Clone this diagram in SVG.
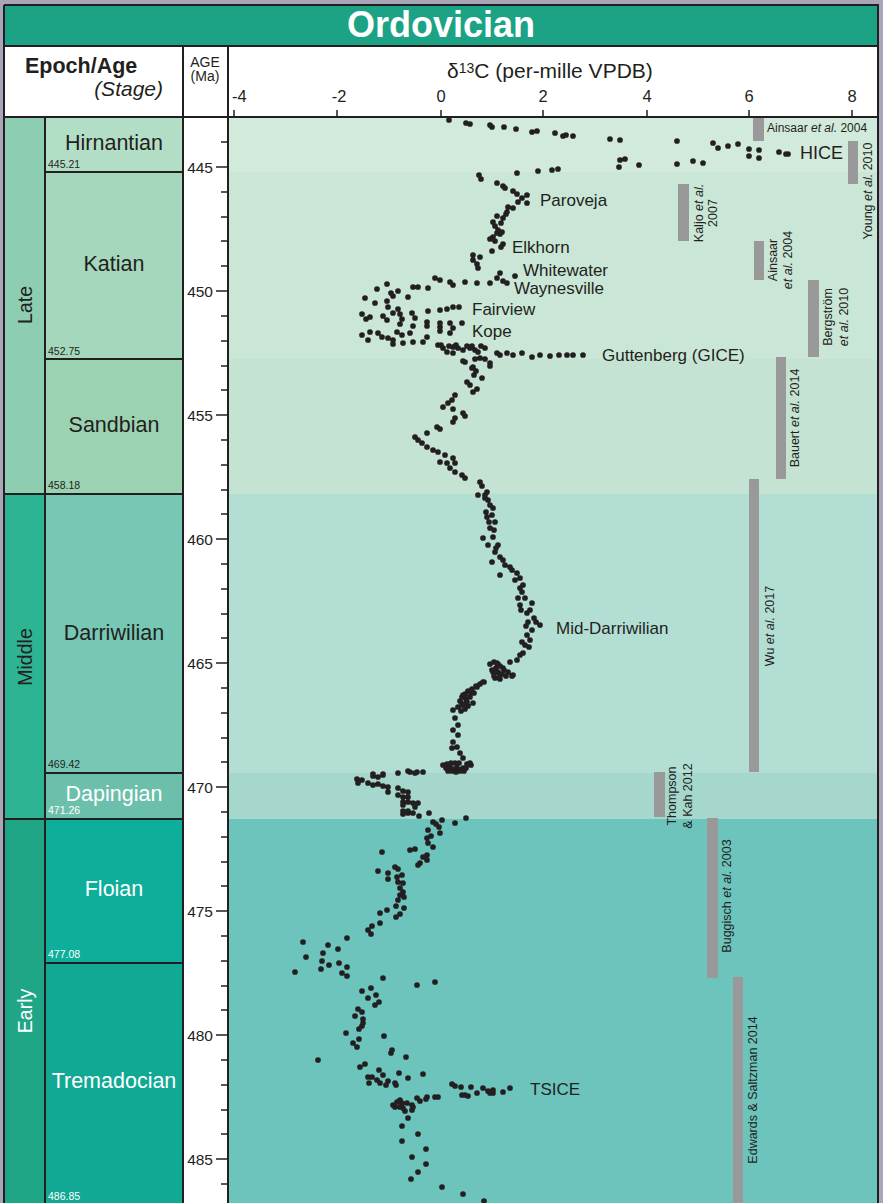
<svg xmlns="http://www.w3.org/2000/svg" width="883" height="1203" viewBox="0 0 883 1203">
<style>
text{font-family:"Liberation Sans",Arial,sans-serif;fill:#231f20}
.w{fill:#fff}
.stg{font-size:21.5px;text-anchor:middle}
.dt{font-size:10.5px}
.age{font-size:15.5px;text-anchor:end}
.ax{font-size:16.5px;text-anchor:middle}
.lbl{font-size:17px}
.ref{font-size:12.5px;text-anchor:middle}
.ln{stroke:#231f20;stroke-width:2;fill:none}
.tk{stroke:#231f20;stroke-width:1.5;fill:none}
.bar{fill:#999}
</style>
<rect x="0" y="0" width="883" height="1203" fill="#a9a6b9"/>
<g id="title">
<rect x="4" y="5" width="874" height="41" fill="#1ca385"/>
<text x="441" y="37" class="w" font-size="36" font-weight="bold" text-anchor="middle">Ordovician</text>
</g>
<g id="header">
<rect x="4" y="46" width="874" height="71" fill="#fff"/>
<text x="25" y="73" font-size="21.5" font-weight="bold">Epoch/Age</text>
<text x="163" y="96" font-size="21" font-style="italic" text-anchor="end">(Stage)</text>
<text x="205" y="67" font-size="14" text-anchor="middle">AGE</text>
<text x="205" y="81" font-size="14" text-anchor="middle">(Ma)</text>
<text x="447" y="78" font-size="21">δ<tspan font-size="14" dy="-5">13</tspan><tspan dy="5">C (per-mille VPDB)</tspan></text>
</g>
<g id="plot-bands">
<rect x="228" y="117" width="650" height="55" fill="#d2eadb"/>
<rect x="228" y="172" width="650" height="187" fill="#c9e6d6"/>
<rect x="228" y="359" width="650" height="135" fill="#c4e3d2"/>
<rect x="228" y="494" width="650" height="279" fill="#b3ded4"/>
<rect x="228" y="773" width="650" height="46" fill="#a6d7cc"/>
<rect x="228" y="819" width="650" height="384" fill="#6dc4bd"/>
</g>
<g id="age-column">
<rect x="183" y="117" width="45" height="1086" fill="#fff"/>
</g>
<g id="epoch-late"><rect x="4" y="117" width="41" height="377" fill="#8dcdb1"/>
<text transform="translate(32,305) rotate(-90)" font-size="19.5" text-anchor="middle">Late</text></g>
<g id="epoch-middle"><rect x="4" y="494" width="41" height="325" fill="#2db593"/>
<text transform="translate(32,657) rotate(-90)" font-size="19.5" text-anchor="middle">Middle</text></g>
<g id="epoch-early"><rect x="4" y="819" width="41" height="384" fill="#1ea687"/>
<text transform="translate(32,1011) rotate(-90)" font-size="19.5" text-anchor="middle" class="w">Early</text></g>
<g id="stage-hirnantian"><rect x="45" y="117" width="138" height="55" fill="#b3dec6"/>
<text x="114" y="150" class="stg">Hirnantian</text><text x="48" y="168" class="dt">445.21</text></g>
<g id="stage-katian"><rect x="45" y="172" width="138" height="187" fill="#a4d7bb"/>
<text x="114" y="271" class="stg">Katian</text><text x="48" y="355" class="dt">452.75</text></g>
<g id="stage-sandbian"><rect x="45" y="359" width="138" height="135" fill="#9bd2b2"/>
<text x="114" y="432" class="stg">Sandbian</text><text x="48" y="489" class="dt">458.18</text></g>
<g id="stage-darriwilian"><rect x="45" y="494" width="138" height="279" fill="#76c7b4"/>
<text x="114" y="640" class="stg">Darriwilian</text><text x="48" y="768" class="dt">469.42</text></g>
<g id="stage-dapingian"><rect x="45" y="773" width="138" height="46" fill="#6cc0ab"/>
<text x="114" y="801" class="stg w">Dapingian</text><text x="48" y="814" class="dt w">471.26</text></g>
<g id="stage-floian"><rect x="45" y="819" width="138" height="144" fill="#0daf9b"/>
<text x="114" y="896" class="stg w">Floian</text><text x="48" y="958" class="dt w">477.08</text></g>
<g id="stage-tremadocian"><rect x="45" y="963" width="138" height="240" fill="#12a994"/>
<text x="114" y="1088" class="stg w">Tremadocian</text><text x="48" y="1200" class="dt w">486.85</text></g>
<g id="frame">
<path class="ln" d="M4 5H878V1203M4 5V1203M4 46H878M4 117H878M183 46V1203M228 46V1203M45 117V1203M45 172H183M45 359H183M4 494H183M45 773H183M4 819H183M45 963H183"/>
</g>
<g id="y-axis">
<path class="tk" d="M221 142H228M216 167H228M221 192H228M221 217H228M221 241H228M221 266H228M216 291H228M221 316H228M221 341H228M221 366H228M221 390H228M216 415H228M221 440H228M221 465H228M221 490H228M221 514H228M216 539H228M221 564H228M221 589H228M221 614H228M221 638H228M216 663H228M221 688H228M221 713H228M221 738H228M221 762H228M216 787H228M221 812H228M221 837H228M221 862H228M221 886H228M216 911H228M221 936H228M221 961H228M221 986H228M221 1010H228M216 1035H228M221 1060H228M221 1085H228M221 1110H228M221 1134H228M216 1159H228M221 1184H228"/>
<text x="213" y="173" class="age">445</text>
<text x="213" y="297" class="age">450</text>
<text x="213" y="421" class="age">455</text>
<text x="213" y="545" class="age">460</text>
<text x="213" y="669" class="age">465</text>
<text x="213" y="793" class="age">470</text>
<text x="213" y="917" class="age">475</text>
<text x="213" y="1041" class="age">480</text>
<text x="213" y="1165" class="age">485</text>
</g>
<g id="x-axis">
<path class="tk" d="M234 110V117M337 110V117M441 110V117M543 110V117M647 110V117M749 110V117M852 110V117"/>
<text x="232" y="102" font-size="16.5">-4</text>
<text x="339" y="102" class="ax">-2</text>
<text x="441" y="102" class="ax">0</text>
<text x="543" y="102" class="ax">2</text>
<text x="647" y="102" class="ax">4</text>
<text x="749" y="102" class="ax">6</text>
<text x="852" y="102" class="ax">8</text>
</g>
<g id="references">
<rect class="bar" x="753" y="118" width="11" height="23"/>
<text x="767" y="132" font-size="12">Ainsaar <tspan font-style="italic">et al.</tspan> 2004</text>
<rect class="bar" x="848" y="141" width="10" height="43"/>
<text class="ref" transform="translate(872,191) rotate(-90)">Young <tspan font-style="italic">et al.</tspan> 2010</text>
<rect class="bar" x="678" y="184" width="11" height="57"/>
<text class="ref" transform="translate(703,213) rotate(-90)">Kaljo <tspan font-style="italic">et al.</tspan><tspan x="0" dy="14">2007</tspan></text>
<rect class="bar" x="754" y="241" width="10" height="39"/>
<text class="ref" transform="translate(777,260) rotate(-90)">Ainsaar<tspan x="0" dy="15"><tspan font-style="italic">et al.</tspan> 2004</tspan></text>
<rect class="bar" x="808" y="280" width="11" height="77"/>
<text class="ref" transform="translate(832,317) rotate(-90)">Bergström<tspan x="0" dy="16"><tspan font-style="italic">et al.</tspan> 2010</tspan></text>
<rect class="bar" x="776" y="357" width="10" height="122"/>
<text class="ref" transform="translate(799,418) rotate(-90)">Bauert <tspan font-style="italic">et al.</tspan> 2014</text>
<rect class="bar" x="749" y="479" width="10" height="293"/>
<text class="ref" transform="translate(774,626) rotate(-90)">Wu <tspan font-style="italic">et al.</tspan> 2017</text>
<rect class="bar" x="654" y="772" width="11" height="45"/>
<text class="ref" transform="translate(676,796) rotate(-90)">Thompson<tspan x="0" dy="16">&amp; Kah 2012</tspan></text>
<rect class="bar" x="707" y="818" width="11" height="160"/>
<text class="ref" transform="translate(731,896) rotate(-90)">Buggisch <tspan font-style="italic">et al.</tspan> 2003</text>
<rect class="bar" x="733" y="977" width="10" height="226"/>
<text class="ref" transform="translate(757,1090) rotate(-90)">Edwards &amp; Saltzman 2014</text>
</g>
<g id="data">
<path fill="none" stroke="#231f20" stroke-width="5.7" stroke-linecap="round" d="M449 120h0M466 123h0M470 124h0M490 125h0M492 127h0M504 127h0M516 129h0M532 132h0M537 131h0M555 133h0M563 136h0M566 135h0M573 136h0M610 139h0M620 140h0M677 141h0M713 143h0M718 148h0M728 146h0M738 144h0M749 149h0M759 150h0M749 156h0M759 158h0M779 152h0M786 154h0M788 154h0M620 160h0M625 159h0M619 167h0M639 165h0M677 164h0M693 161h0M703 163h0M517 173h0M538 171h0M552 170h0M558 169h0
M479 175h0M481 179h0M497 183h0M503 186h0M505 188h0M513 191h0M517 194h0M527 195h0M522 198h0M518 202h0M527 203h0M513 208h0M508 207h0M507 212h0M506 214h0M497 216h0M503 218h0M493 222h0M501 223h0M495 226h0M498 230h0M502 232h0M497 233h0M500 234h0M493 237h0M490 239h0M495 241h0M503 244h0M501 247h0M492 251h0M473 255h0M480 257h0M473 260h0M477 264h0M478 268h0M500 273h0M497 278h0M515 276h0M503 281h0M507 283h0M435 278h0M440 280h0M450 282h0M453 285h0M465 282h0M477 283h0M490 283h0M418 287h0M428 288h0M413 287h0M387 284h0M377 289h0M391 293h0M398 291h0M393 296h0M365 298h0M408 297h0M387 301h0M375 303h0M388 307h0M398 309h0M428 311h0M440 310h0M447 309h0M453 307h0M459 307h0M362 314h0M370 317h0M383 316h0M393 313h0M400 314h0M412 313h0M415 318h0M402 319h0M366 319h0M387 320h0M427 322h0M440 323h0M450 323h0M462 323h0M413 326h0M400 324h0M427 326h0M440 327h0M453 328h0M397 332h0M378 333h0M362 335h0M370 332h0M382 337h0M388 338h0M402 335h0M410 333h0M427 337h0M440 331h0M450 333h0M393 340h0M403 343h0M413 342h0M393 344h0M423 342h0M368 340h0M438 345h0M443 348h0M447 352h0M453 347h0M458 348h0M463 350h0M470 348h0M475 350h0M478 352h0M485 348h0M453 353h0M497 353h0M500 355h0M507 353h0M513 355h0M522 353h0M532 357h0M540 355h0M550 356h0M567 355h0M573 355h0M583 355h0M465 362h0M473 367h0M480 358h0M490 363h0M441 345h0M449 346h0M456 345h0M467 346h0M472 346h0M481 346h0M559 355h0
M463 361h0M475 359h0M485 359h0M490 366h0M472 368h0M476 371h0M474 375h0M482 378h0M467 382h0M470 385h0M477 389h0M473 392h0M455 395h0M452 400h0M448 403h0M443 407h0M453 409h0M463 413h0M465 416h0M455 418h0M453 422h0M437 427h0M440 429h0M427 433h0M415 437h0M418 440h0M422 443h0M427 447h0M433 450h0M438 452h0M445 455h0M453 458h0M440 462h0M447 463h0M455 463h0M450 468h0M455 472h0M462 475h0M465 478h0M480 482h0M482 486h0M487 492h0M478 495h0M485 498h0M490 505h0M493 508h0M487 517h0M495 522h0M490 528h0M483 538h0M493 537h0M498 545h0M495 552h0M500 557h0M492 562h0M503 560h0M510 567h0M500 575h0M517 573h0M520 578h0M523 585h0M522 592h0M518 598h0M520 605h0M532 603h0M527 613h0M528 622h0M534 618h0M540 625h0M532 630h0M527 635h0M522 642h0M529 647h0M523 653h0M517 660h0M497 663h0M503 668h0M493 672h0M500 675h0M513 675h0M495 678h0M483 682h0M477 687h0M470 692h0M463 695h0M467 702h0M462 705h0M473 703h0M453 710h0M455 718h0M458 725h0M453 730h0M458 735h0M453 742h0M457 747h0M452 748h0M460 753h0M463 758h0M443 765h0M450 767h0M457 768h0M463 768h0M470 763h0M408 771h0M417 772h0M423 772h0M398 773h0M373 774h0M383 774h0
M485 495h0M488 500h0M486 512h0M492 515h0M489 522h0M494 530h0M488 545h0M496 548h0M505 565h0M512 570h0M515 580h0M520 588h0M525 598h0M521 610h0M530 610h0M526 626h0M536 622h0M530 640h0M525 645h0M520 655h0M510 662h0
M490 664h0M494 662h0M498 664h0M496 668h0M500 666h0M504 670h0M492 670h0M498 672h0M502 674h0M506 676h0M494 676h0M500 679h0M508 672h0M512 676h0M480 684h0M484 682h0M476 686h0M472 689h0M468 691h0M465 694h0M462 697h0M466 699h0M470 697h0M474 693h0M460 701h0M463 704h0M468 706h0M458 707h0M461 711h0M465 709h0M447 764h0M451 763h0M455 763h0M459 763h0M467 764h0M471 765h0M446 768h0M454 769h0M462 769h0M466 768h0M448 771h0M456 772h0M464 771h0M452 771h0M460 771h0
M410 772h0M415 773h0M357 779h0M362 780h0M358 783h0M368 783h0M373 776h0M378 777h0M383 775h0M373 785h0M378 784h0M383 786h0M388 787h0M388 792h0M398 788h0M398 795h0M403 791h0M403 797h0M408 792h0M408 797h0M403 802h0M403 805h0M408 802h0M413 803h0M418 803h0M415 807h0M403 811h0M403 814h0M408 811h0M413 813h0M408 813h0M419 816h0M429 813h0M433 822h0M436 824h0M442 820h0M439 827h0M440 833h0M428 830h0M427 838h0M431 836h0M428 843h0M433 847h0M455 823h0M466 818h0M382 852h0M410 850h0M415 849h0M427 855h0M423 857h0M427 860h0M420 863h0M418 865h0M378 871h0M395 867h0M398 869h0M388 873h0M388 879h0M397 877h0M402 875h0M398 882h0M403 883h0M400 888h0M403 892h0M400 895h0M404 897h0M398 900h0M396 906h0M404 908h0M400 914h0M396 917h0M387 910h0M380 913h0M380 923h0M372 926h0M368 930h0M371 934h0M347 938h0M303 942h0M328 945h0M338 949h0M323 953h0M306 957h0M322 961h0M339 963h0M329 965h0M295 972h0M321 969h0M342 973h0M347 967h0M347 976h0M383 978h0M417 985h0M435 982h0M362 991h0M371 988h0M368 998h0M376 995h0M379 1002h0M375 1005h0M358 1009h0M362 1012h0M355 1016h0M363 1019h0M363 1023h0M362 1026h0M359 1029h0M346 1033h0M359 1039h0M353 1043h0M357 1047h0M384 1036h0M392 1050h0M391 1053h0M406 1057h0M318 1060h0M360 1067h0M365 1064h0M379 1070h0M383 1075h0M368 1077h0M372 1077h0M377 1080h0M380 1083h0M388 1081h0M386 1085h0M369 1083h0M395 1083h0M396 1085h0M399 1073h0M408 1078h0M423 1074h0M452 1084h0M455 1086h0M461 1087h0M471 1087h0M483 1088h0M488 1091h0M493 1090h0M510 1088h0M503 1092h0M477 1093h0M462 1095h0M465 1095h0M468 1096h0M490 1093h0M493 1093h0M435 1097h0M438 1097h0M427 1097h0M426 1099h0M417 1098h0M420 1101h0M397 1102h0M400 1100h0M402 1103h0M393 1105h0M395 1107h0M400 1107h0M403 1108h0M405 1111h0M412 1110h0M412 1105h0M413 1107h0M407 1103h0M408 1118h0M402 1126h0M418 1134h0M402 1141h0M426 1149h0M412 1157h0M426 1164h0M418 1172h0M411 1179h0M442 1187h0M463 1194h0M484 1201h0"/>
</g>
<g id="labels">
<text x="800" y="159" font-size="18">HICE</text>
<text x="540" y="206" class="lbl">Paroveja</text>
<text x="512" y="253" class="lbl">Elkhorn</text>
<text x="523" y="276" class="lbl">Whitewater</text>
<text x="514" y="294" class="lbl">Waynesville</text>
<text x="472" y="315" class="lbl">Fairview</text>
<text x="472" y="337" class="lbl">Kope</text>
<text x="602" y="361" class="lbl">Guttenberg (GICE)</text>
<text x="556" y="634" class="lbl">Mid-Darriwilian</text>
<text x="530" y="1095" class="lbl">TSICE</text>
</g>
</svg>
